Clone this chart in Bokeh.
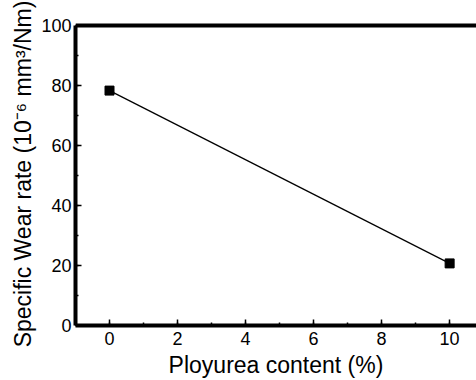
from bokeh.plotting import figure
from bokeh.models import SingleIntervalTicker, Range1d, Span
from bokeh.embed import file_html
from bokeh.resources import INLINE

content = [0, 10]
wear_rate = [78.3, 20.7]

FONT = "Liberation Sans"

p = figure(width=476, height=380, output_backend="svg", toolbar_location=None,
           x_range=Range1d(-1, 10.79), y_range=Range1d(0, 101),
           min_border_left=75, min_border_right=0, min_border_top=22, min_border_bottom=55)
p.outline_line_color = None
p.grid.visible = False
p.background_fill_color = "white"
p.border_fill_color = "white"

p.line(content, wear_rate, line_color="black", line_width=1.2)
p.scatter(content, wear_rate, marker="square", size=9, color="black")

top_line = Span(location=100, dimension="width", line_color="black", line_width=4)
p.add_layout(top_line)

xax = p.below[0]
yax = p.left[0]

xax.ticker = SingleIntervalTicker(interval=2, num_minor_ticks=2)
yax.ticker = SingleIntervalTicker(interval=20, num_minor_ticks=2)
yax.bounds = (0, 100)

for ax in (xax, yax):
    ax.axis_line_width = 4
    ax.axis_line_color = "black"
    ax.major_tick_in = 6
    ax.major_tick_out = 0
    ax.minor_tick_in = 3
    ax.minor_tick_out = 0
    ax.major_tick_line_width = 1.5
    ax.minor_tick_line_width = 1.5
    ax.major_label_text_font = FONT
    ax.major_label_text_font_size = "18px"
    ax.major_label_text_color = "black"
    ax.axis_label_text_font = FONT
    ax.axis_label_text_font_size = "23px"
    ax.axis_label_text_font_style = "normal"
    ax.axis_label_text_color = "black"

xax.axis_label = "Ployurea content (%)"
yax.axis_label = "Specific Wear rate (10\u207b\u2076 mm\u00b3/Nm)"
xax.major_label_standoff = 6
yax.major_label_standoff = 4
xax.axis_label_standoff = 4
yax.axis_label_standoff = 2

open("out.html", "w").write(file_html(p, INLINE))
